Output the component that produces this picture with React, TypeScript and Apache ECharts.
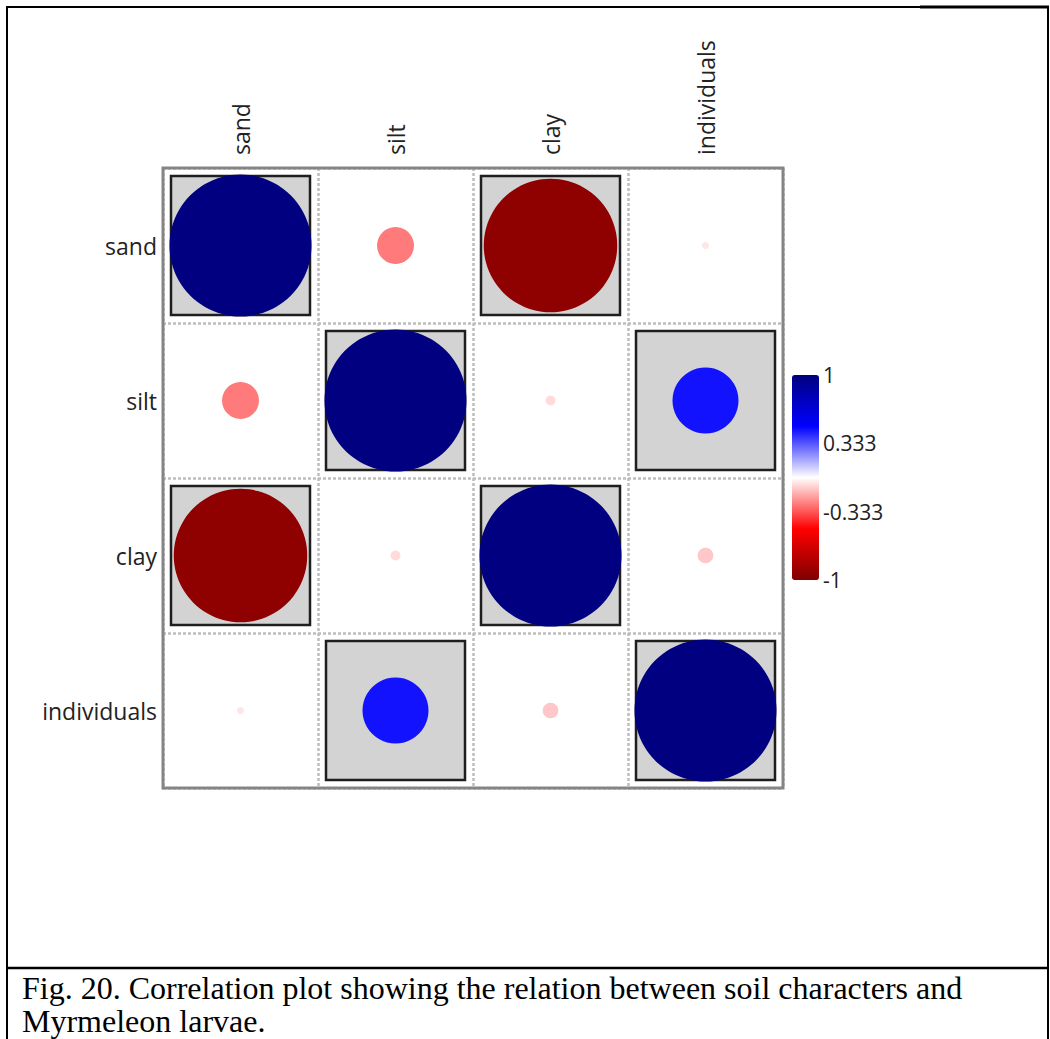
import React, { useEffect, useRef } from "react";
import * as echarts from "echarts";

// ---- data ----
const variables = ["sand", "silt", "clay", "individuals"];
const sandRow = [1, -0.26, -0.94, -0.05];
const siltRow = [-0.26, 1, -0.07, 0.465];
const clayRow = [-0.94, -0.07, 1, -0.11];
const individualsRow = [-0.05, 0.465, -0.11, 1];
const correlationRows = [sandRow, siltRow, clayRow, individualsRow];
// [column, row] of significant correlations (grey boxes)
const significantCells = [
  [0, 0], [1, 1], [2, 2], [3, 3],
  [2, 0], [0, 2], [3, 1], [1, 3],
];
const scaleMin = -1;
const scaleMax = 1;
const scaleStep = 2 / 3;
const scaleColors = ["#800000", "#ff0000", "#ffffff", "#0000ff", "#000080"];
const captionLines = [
  "Fig. 20. Correlation plot showing the relation between soil characters and",
  "Myrmeleon larvae.",
];

const FONT = "'Open Sans', 'DejaVu Sans', sans-serif";

export default function App() {
  const ref = useRef<HTMLDivElement>(null);

  useEffect(() => {
    if (!ref.current) return;
    const chart = echarts.init(ref.current, undefined, { renderer: "svg" });

    const circleData: number[][] = [];
    correlationRows.forEach((row, r) => {
      row.forEach((v, c) => circleData.push([c, r, v]));
    });
    const boxData = significantCells.map(([c, r]) => [c, r]);

    const gridLeft = 163;
    const gridTop = 168;
    const gridSize = 620;
    const cell = gridSize / variables.length;
    const maxDiameter = 142;

    chart.setOption({
      animation: false,
      backgroundColor: "#ffffff",
      grid: [
        { left: gridLeft, top: gridTop, width: gridSize, height: gridSize, show: false },
        { left: 792, top: 375, width: 27, height: 205, show: false },
      ],
      xAxis: [
        {
          gridIndex: 0,
          type: "category",
          data: variables,
          position: "top",
          boundaryGap: true,
          axisLine: { show: false },
          axisTick: { show: false },
          axisLabel: {
            rotate: -90,
            margin: 13,
            fontSize: 23,
            color: "#222",
            fontFamily: FONT,
          },
          splitLine: {
            show: true,
            interval: 0,
            lineStyle: { color: "#bdbdbd", width: 2.5, type: [3, 2] },
          },
        },
        { gridIndex: 1, type: "value", show: false, min: 0, max: 1 },
      ],
      yAxis: [
        {
          gridIndex: 0,
          type: "category",
          data: variables,
          inverse: true,
          boundaryGap: true,
          axisLine: { show: false },
          axisTick: { show: false },
          axisLabel: {
            margin: 6,
            fontSize: 23,
            color: "#222",
            fontFamily: FONT,
          },
          splitLine: {
            show: true,
            interval: 0,
            lineStyle: { color: "#bdbdbd", width: 2.5, type: [3, 2] },
          },
        },
        {
          gridIndex: 1,
          type: "value",
          min: scaleMin,
          max: scaleMax,
          interval: scaleStep,
          position: "right",
          axisLine: { show: false },
          axisTick: { show: false },
          splitLine: { show: false },
          axisLabel: {
            margin: 4,
            fontSize: 21,
            color: "#222",
            fontFamily: FONT,
            formatter: (v: number) => String(Number(v.toFixed(3))),
          },
        },
      ],
      visualMap: {
        type: "continuous",
        min: scaleMin,
        max: scaleMax,
        seriesIndex: 1,
        dimension: 2,
        calculable: false,
        hoverLink: false,
        left: 792,
        top: 375,
        padding: 0,
        itemWidth: 27,
        itemHeight: 205,
        inRange: { color: scaleColors },
      },
      series: [
        {
          type: "scatter",
          xAxisIndex: 0,
          yAxisIndex: 0,
          symbol: "rect",
          symbolSize: cell - 16,
          data: boxData,
          itemStyle: { color: "#d3d3d3", borderColor: "#1e1e1e", borderWidth: 2.5, opacity: 1 },
          silent: true,
          z: 2,
        },
        {
          type: "scatter",
          xAxisIndex: 0,
          yAxisIndex: 0,
          symbol: "circle",
          symbolSize: (val: number[]) => Math.abs(val[2]) * maxDiameter,
          data: circleData,
          itemStyle: { opacity: 1 },
          silent: true,
          z: 3,
        },
        {
          type: "scatter",
          xAxisIndex: 1,
          yAxisIndex: 1,
          data: [],
        },
      ],
      graphic: [
        {
          type: "rect",
          z: 100,
          shape: { x: gridLeft, y: gridTop, width: gridSize, height: gridSize },
          style: { fill: "none", stroke: "#858585", lineWidth: 3 },
          silent: true,
        },
        { type: "line", z: 100, shape: { x1: 7, y1: 7, x2: 1049, y2: 7 }, style: { stroke: "#000", lineWidth: 2 } },
        { type: "line", z: 100, shape: { x1: 920, y1: 7, x2: 1049, y2: 7 }, style: { stroke: "#000", lineWidth: 3 } },
        { type: "line", z: 100, shape: { x1: 7, y1: 6, x2: 7, y2: 1039 }, style: { stroke: "#000", lineWidth: 2 } },
        { type: "line", z: 100, shape: { x1: 1048, y1: 6, x2: 1048, y2: 1039 }, style: { stroke: "#000", lineWidth: 2 } },
        { type: "line", z: 100, shape: { x1: 7, y1: 968, x2: 1049, y2: 968 }, style: { stroke: "#000", lineWidth: 2.5 } },
        ...captionLines.map((t, i) => ({
          type: "text",
          z: 100,
          x: 22,
          y: 988 + i * 33,
          style: {
            text: t,
            fontFamily: "'Liberation Serif', 'Times New Roman', serif",
            fontSize: 32,
            fill: "#000",
            textVerticalAlign: "middle",
          },
        })),
      ],
    });

    return () => chart.dispose();
  }, []);

  return (
    <div
      ref={ref}
      style={{ position: "fixed", left: 0, top: 0, width: 1050, height: 1039, background: "#fff" }}
    />
  );
}
